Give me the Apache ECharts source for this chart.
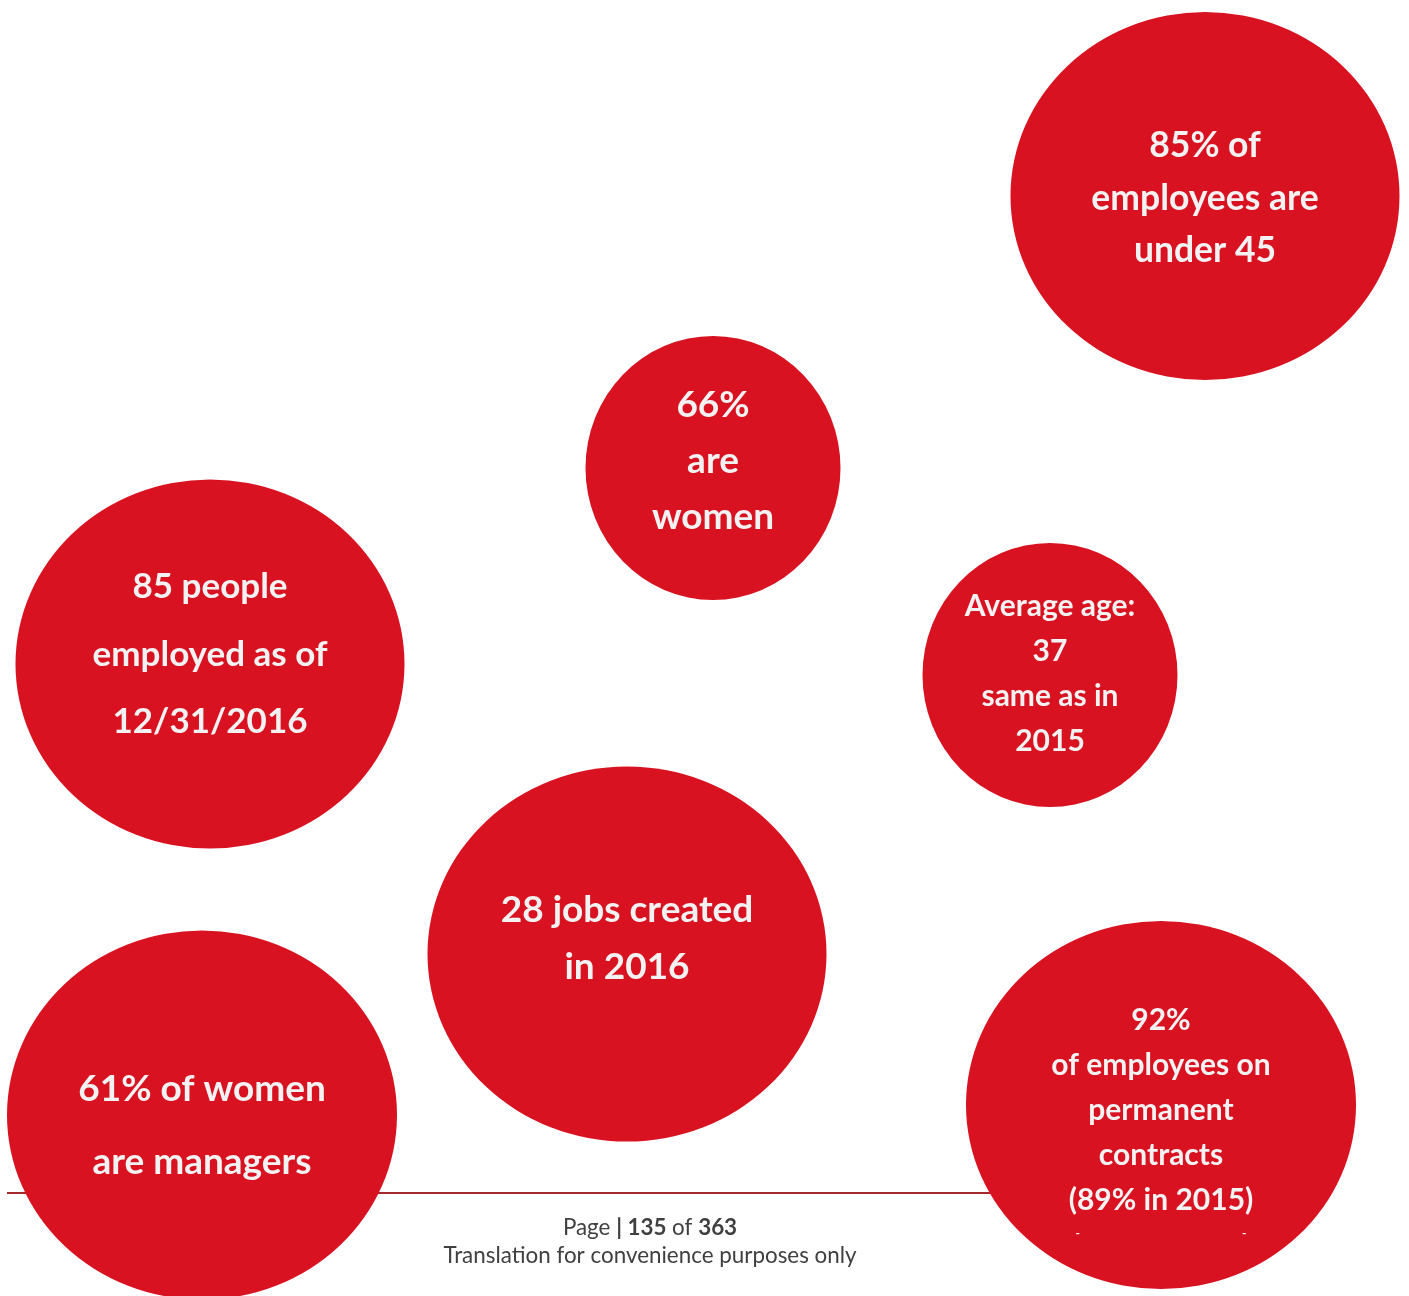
<!DOCTYPE html>
<html>
<head>
<meta charset="utf-8">
<title>Workforce highlights 2016</title>
<script src="https://cdn.jsdelivr.net/npm/echarts@6/dist/echarts.min.js"></script>
<style>
  html, body { margin: 0; padding: 0; background: #ffffff; }
  #chart { width: 1409px; height: 1296px; }
</style>
</head>
<body>
<div id="chart"></div>
<script>
// Key figures shown in the bubbles
const captions = [
  ['85% of', 'employees are', 'under 45'],
  ['66%', 'are', 'women'],
  ['85 people', 'employed as of', '12/31/2016'],
  ['Average age:', '37', 'same as in', '2015'],
  ['28 jobs created', 'in 2016'],
  ['61% of women', 'are managers'],
  ['92%', 'of employees on', 'permanent', 'contracts', '(89% in 2015)']
];

// Bubble centres on the page (x to the right, y downwards) and bubble extents
const bubbleX = [1205, 713, 210, 1050, 627, 202, 1161];
const bubbleY = [196, 468, 664, 675, 954, 1115, 1105];
const bubbleW = [389, 255, 389, 255, 399, 390, 390];
const bubbleH = [368, 264, 369, 264, 375, 369, 368];

// Footer texts
const pageNo = '135';
const pageTotal = '363';
const footerNote = 'Translation for convenience purposes only';

// Typography per bubble
const fontSizes = [35.5, 37, 35, 30, 37, 37, 30];
const lineHeights = [52.5, 56, 67.5, 45, 57, 73, 45];
const labelShift = [2.5, -6.5, -9.5, -1.5, -15, 10.5, 15.5];
// the last bubble carries a faint row of two dashes under its text
const trailingDashes = [false, false, false, false, false, false, true];

const RED = '#d81221';
const TEXT = '#f2f2f2';
const FONT = 'Lato, "Open Sans", sans-serif';

const data = captions.map((lines, i) => {
  let text = lines.join('\n');
  if (trailingDashes[i]) text += '\n{d|-}{g|}{d|-}';
  return {
    value: [bubbleX[i], bubbleY[i]],
    symbolSize: [bubbleW[i], bubbleH[i]],
    label: {
      show: true,
      position: 'inside',
      offset: [0, labelShift[i]],
      formatter: text,
      fontSize: fontSizes[i],
      lineHeight: lineHeights[i],
      fontWeight: 'bold',
      fontFamily: FONT,
      color: TEXT,
      align: 'center',
      rich: {
        d: { fontSize: 12, lineHeight: 21, color: TEXT, fontFamily: FONT, fontWeight: 'bold' },
        g: { width: 162, lineHeight: 21 }
      }
    }
  };
});

const chart = echarts.init(document.getElementById('chart'), null, { renderer: 'canvas' });

chart.setOption({
  backgroundColor: '#ffffff',
  animation: false,
  grid: { left: 0, right: 0, top: 0, bottom: 0 },
  xAxis: { type: 'value', min: 0, max: 1409, show: false },
  yAxis: { type: 'value', min: 0, max: 1296, inverse: true, show: false },
  title: {
    left: 645,
    top: 1212,
    textAlign: 'center',
    text: '{n|Page }{b|| ' + pageNo + '}{n| of }{b|' + pageTotal + '}',
    subtext: footerNote,
    itemGap: 6,
    textStyle: {
      rich: {
        n: { fontFamily: FONT, fontSize: 22.4, color: '#404040', fontWeight: 'normal' },
        b: { fontFamily: FONT, fontSize: 22.4, color: '#404040', fontWeight: 'bold' }
      }
    },
    subtextStyle: { fontFamily: FONT, fontSize: 22.4, color: '#404040' }
  },
  graphic: [{
    type: 'line',
    z: -10,
    shape: { x1: 7, y1: 1193, x2: 1150, y2: 1193 },
    style: { stroke: '#a3292e', lineWidth: 2 }
  }],
  series: [{
    type: 'scatter',
    z: 5,
    clip: false,
    symbol: 'circle',
    itemStyle: { color: RED, opacity: 1 },
    emphasis: { disabled: true },
    data: data
  }]
});
</script>
</body>
</html>
